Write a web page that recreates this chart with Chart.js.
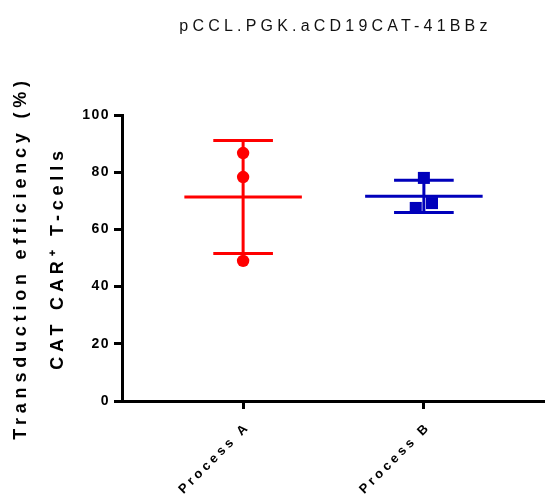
<!DOCTYPE html>
<html lang="en">
<head>
<meta charset="UTF-8">
<title>pCCL.PGK.aCD19CAT-41BBz transduction</title>
<style>
  body { margin: 0; background: #fff; }
  canvas { display: block; }
</style>
<script src="https://cdn.jsdelivr.net/npm/chart.js"></script>
</head>
<body>
<canvas id="chart" width="545" height="498"></canvas>
<script>
// % CAT CAR+ T-cells, one value per donor
const processes = ['Process A', 'Process B'];
const processA = [86.7, 78.3, 49.0];
const processB = [78.0, 67.5, 69.2];
const yTicks = [0, 20, 40, 60, 80, 100];
const chartTitle = 'pCCL.PGK.aCD19CAT-41BBz';

// horizontal spread of the replicate dots inside a group (x units)
const jitter = [[0, 0, 0], [0, -0.045, 0.045]];
const colors = ['#ff0000', '#0000bb'];
const groups = [processA, processB];
const FONT = '"Liberation Sans", Arial, sans-serif';

function mean(v) { return v.reduce((a, b) => a + b, 0) / v.length; }
function sd(v) {
  const m = mean(v);
  return Math.sqrt(v.reduce((a, b) => a + (b - m) ** 2, 0) / (v.length - 1));
}

// mean line + SD whisker with caps, drawn under the dots
const meanSd = {
  id: 'meanSd',
  beforeDatasetsDraw(chart) {
    const { ctx, scales: { x, y } } = chart;
    groups.forEach((vals, i) => {
      const m = mean(vals), s = sd(vals), cx = i + 1;
      const hline = (v, half) => {
        ctx.moveTo(x.getPixelForValue(cx - half), y.getPixelForValue(v));
        ctx.lineTo(x.getPixelForValue(cx + half), y.getPixelForValue(v));
      };
      ctx.save();
      ctx.strokeStyle = colors[i];
      ctx.lineWidth = 3;
      ctx.beginPath();
      hline(m, 0.325);
      hline(m + s, 0.165);
      hline(m - s, 0.165);
      ctx.moveTo(x.getPixelForValue(cx), y.getPixelForValue(m + s));
      ctx.lineTo(x.getPixelForValue(cx), y.getPixelForValue(m - s));
      ctx.stroke();
      ctx.restore();
    });
  }
};

// spaced-out lettering for tick labels and axis titles
const spacing = { x: { drawLabels: '3.5px' }, y: { drawLabels: '1.5px', drawTitle: '4.8px' } };
const letterSpacing = {
  id: 'letterSpacing',
  beforeDraw(chart) {
    Object.entries(spacing).forEach(([id, fns]) => {
      const scale = chart.scales[id];
      if (!scale || scale._spaced) return;
      Object.entries(fns).forEach(([fn, ls]) => {
        const orig = scale[fn].bind(scale);
        scale[fn] = (...args) => {
          chart.ctx.save();
          chart.ctx.letterSpacing = ls;
          orig(...args);
          chart.ctx.restore();
        };
      });
      scale._spaced = true;
    });
  }
};

const topTitle = {
  id: 'topTitle',
  afterDraw(chart) {
    const { ctx, chartArea } = chart;
    ctx.save();
    ctx.font = '16px ' + FONT;
    ctx.letterSpacing = '4.2px';
    ctx.fillStyle = '#111';
    ctx.textAlign = 'center';
    ctx.textBaseline = 'middle';
    ctx.fillText(chartTitle, (chartArea.left + chartArea.right) / 2 + 2, 27);
    ctx.restore();
  }
};

Chart.defaults.color = '#000';
Chart.defaults.font.family = FONT;

new Chart(document.getElementById('chart'), {
  type: 'scatter',
  data: {
    datasets: groups.map((vals, i) => ({
      label: processes[i],
      data: vals.map((v, j) => ({ x: i + 1 + jitter[i][j], y: v })),
      backgroundColor: colors[i],
      borderColor: colors[i],
      borderWidth: 0,
      pointStyle: i === 0 ? 'circle' : 'rect',
      pointRadius: i === 0 ? 6.2 : 8.5
    }))
  },
  options: {
    responsive: false,
    animation: false,
    layout: { autoPadding: false, padding: { top: 115, right: 0, left: 0, bottom: 0 } },
    plugins: { legend: { display: false }, tooltip: { enabled: false } },
    scales: {
      x: {
        type: 'linear',
        min: 0.33,
        max: 2.67,
        afterBuildTicks: s => { s.ticks = processes.map((_, i) => ({ value: i + 1 })); },
        afterFit: s => { s.height = 97; s.paddingLeft = 0; s.paddingRight = 0; },
        border: { color: '#000', width: 3 },
        grid: { drawOnChartArea: false, drawTicks: true, tickLength: 8, lineWidth: 3, color: '#000' },
        ticks: {
          autoSkip: false,
          minRotation: 45,
          maxRotation: 45,
          padding: 10,
          labelOffset: 5,
          font: { size: 13, weight: 'bold' },
          callback: v => processes[v - 1]
        }
      },
      y: {
        min: 0,
        max: 100,
        afterBuildTicks: s => { s.ticks = yTicks.map(v => ({ value: v })); },
        afterFit: s => { s.width = 122; },
        border: { color: '#000', width: 3 },
        grid: { drawOnChartArea: false, drawTicks: true, tickLength: 8, lineWidth: 3, color: '#000' },
        ticks: { padding: 4, font: { size: 14, weight: 'bold' } },
        title: {
          display: true,
          text: ['Transduction efficiency (%)', 'CAT CAR\u207A T-cells'],
          font: { size: 18, weight: 'bold', lineHeight: 2.05 },
          padding: { top: 3, bottom: 0 }
        }
      }
    }
  },
  plugins: [meanSd, letterSpacing, topTitle]
});
</script>
</body>
</html>
